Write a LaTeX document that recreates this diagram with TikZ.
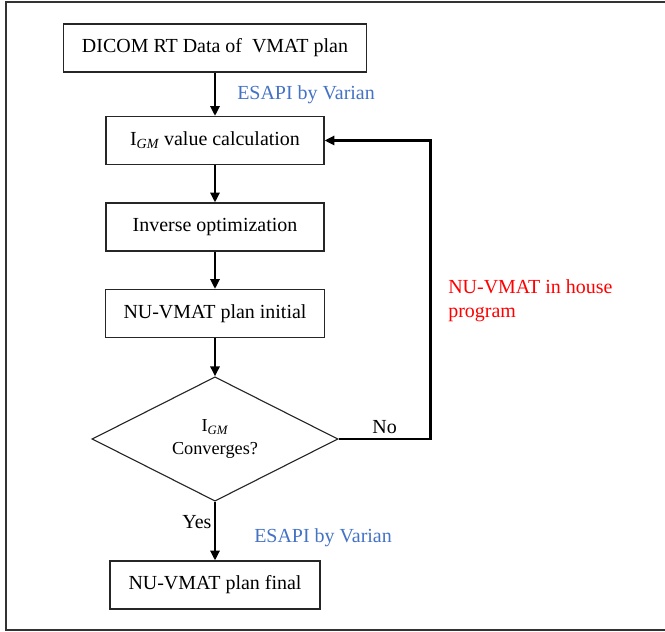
\documentclass[tikz,border=0pt]{standalone}
\usepackage{fontspec}
\setmainfont{Liberation Serif}
\usetikzlibrary{calc,positioning,arrows.meta,shapes.geometric}
\definecolor{esapiblue}{RGB}{68,114,196}

\begin{document}
\begin{tikzpicture}[scale=1.0,
  box/.style={draw=black!85,line width=0.8pt,minimum height=1.2cm,inner sep=2pt,font=\fontsize{14.2}{17}\selectfont},
  flow/.style={line width=2.1pt,-{Triangle[length=7pt,width=6.5pt]}},
  lbl/.style={inner sep=0pt,font=\fontsize{14.2}{17}\selectfont}]
  \useasboundingbox (0,0) rectangle (16.625,-15.8);
  \draw[line width=1pt,black!80] (0.15,-0.05) rectangle (16.7,-15.75);
  % boxes down the middle
  \node[box,minimum width=7.575cm] (dicom) at (5.375,-1.2) {DICOM RT Data of\ \ VMAT plan};
  \node[box,minimum width=5.45cm] (igm) at (5.375,-3.5125) {I\textsubscript{\itshape GM} value calculation};
  \node[box,minimum width=5.45cm] (inv) at (5.375,-5.675) {Inverse optimization};
  \node[box,minimum width=5.475cm] (initial) at (5.375,-7.8375) {NU-VMAT plan initial};
  \node[diamond,draw=black!85,line width=0.8pt,minimum width=6.15cm,minimum height=2.95cm,inner sep=0pt,
    align=center,font=\fontsize{13}{16}\selectfont] (conv) at (5.375,-10.975) {I\textsubscript{\itshape GM}\\Converges?};
  \node[box,minimum width=5.25cm] (final) at (5.375,-14.625) {NU-VMAT plan final};
  % labels
  \node[lbl,text=esapiblue,anchor=west] (esapiA) at (5.925,-2.375) {ESAPI by Varian};
  \node[lbl,text=esapiblue,anchor=west] (esapiB) at (6.35,-13.45) {ESAPI by Varian};
  \node[lbl,text=red,anchor=west,align=left] (inhouse) at (11.2,-7.525) {NU-VMAT in house\\program};
  % connectors
  \draw[flow] (dicom) -- (igm);
  \draw[flow] (igm) -- (inv);
  \draw[flow] (inv) -- (initial);
  \draw[flow] (initial) -- (conv);
  \draw[flow] (conv) -- node[lbl,left,pos=0.35,inner sep=1.5pt]{Yes} (final);
  \draw[flow] (conv.east) -- node[lbl,above,inner sep=3pt]{No} ++(2.3,0) |- (igm.east);
\end{tikzpicture}
\end{document}
